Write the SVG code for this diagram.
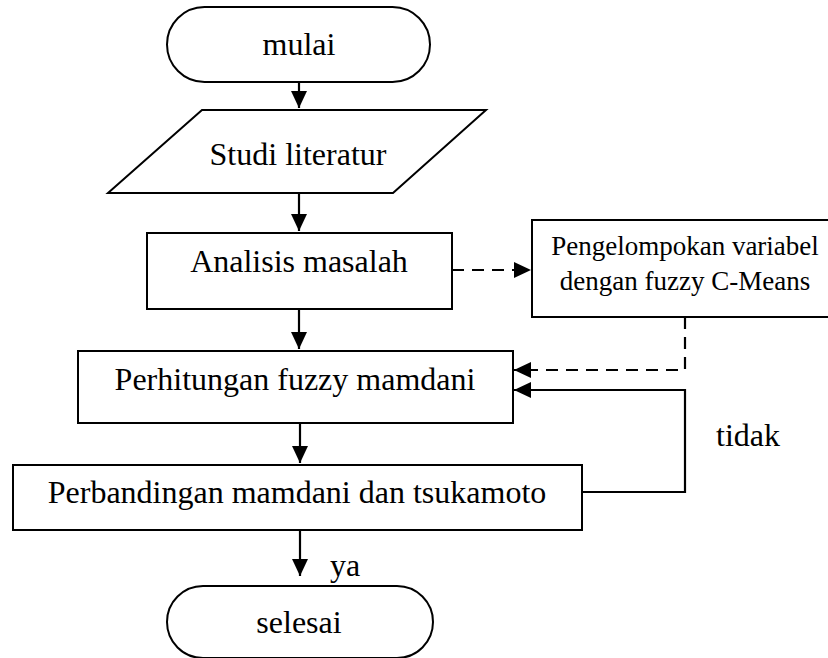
<svg xmlns="http://www.w3.org/2000/svg" width="828" height="658" viewBox="0 0 828 658">
<defs>
<marker id="ah" markerUnits="userSpaceOnUse" markerWidth="18" markerHeight="16" refX="17" refY="8" orient="auto">
<path d="M0,0 L17,8 L0,16 Z" fill="#000"/>
</marker>
<style>
.s{fill:#fff;stroke:#000;stroke-width:2}
.t{font-family:"Liberation Serif","Times New Roman",serif;font-size:32px;fill:#000;text-anchor:middle}
.ts{font-family:"Liberation Serif","Times New Roman",serif;font-size:27px;fill:#000;text-anchor:middle}
.c{fill:none;stroke:#000;stroke-width:2.2}
.d{stroke-dasharray:12,8}
</style>
</defs>
<rect width="828" height="658" fill="#fff"/>
<g id="mulai"><rect class="s" x="167" y="7" width="263" height="75" rx="37.5"/><text class="t" x="299" y="55">mulai</text></g>
<g id="studi"><polygon class="s" points="202,110 486,110 393,193 108,193"/><text class="t" x="298" y="165">Studi literatur</text></g>
<g id="analisis"><rect class="s" x="147" y="233" width="305" height="76"/><text class="t" x="299" y="272">Analisis masalah</text></g>
<g id="pengelompokan"><rect class="s" x="532" y="220" width="310" height="97"/><text class="ts" x="685" y="255">Pengelompokan variabel</text><text class="ts" x="685" y="290">dengan fuzzy C-Means</text></g>
<g id="perhitungan"><rect class="s" x="78" y="351" width="435" height="72"/><text class="t" x="295" y="390">Perhitungan fuzzy mamdani</text></g>
<g id="perbandingan"><rect class="s" x="13" y="465" width="569" height="65"/><text class="t" x="297" y="503">Perbandingan mamdani dan tsukamoto</text></g>
<g id="selesai"><rect class="s" x="167" y="586" width="266" height="72" rx="36"/><text class="t" x="299" y="633">selesai</text></g>
<g id="connectors">
<line class="c" x1="299" y1="82" x2="299" y2="108" marker-end="url(#ah)"/>
<line class="c" x1="299" y1="193" x2="299" y2="231" marker-end="url(#ah)"/>
<line class="c d" x1="452" y1="270" x2="531" y2="270" marker-end="url(#ah)"/>
<line class="c" x1="299" y1="309" x2="299" y2="349" marker-end="url(#ah)"/>
<polyline class="c d" points="685,317 685,370 514,370" marker-end="url(#ah)"/>
<line class="c" x1="300" y1="423" x2="300" y2="463" marker-end="url(#ah)"/>
<polyline class="c" points="582,492 685,492 685,390 514,390" marker-end="url(#ah)"/>
<line class="c" x1="300" y1="530" x2="300" y2="576" marker-end="url(#ah)"/>
<text class="t" x="748" y="446">tidak</text>
<text class="t" x="345" y="576">ya</text>
</g>
</svg>
